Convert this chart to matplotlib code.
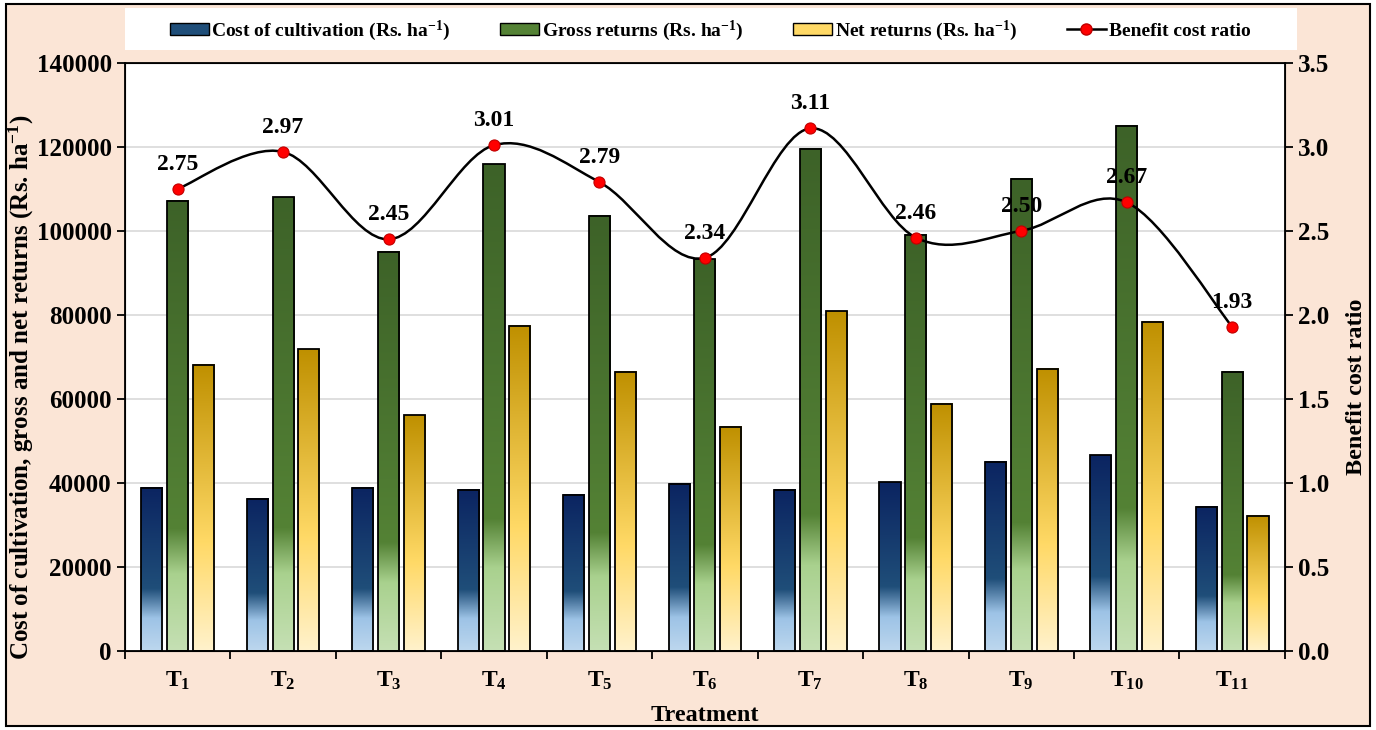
import numpy as np
import matplotlib
matplotlib.use("Agg")
import matplotlib.pyplot as plt
from matplotlib.colors import LinearSegmentedColormap
from matplotlib.patches import Rectangle, Patch
from matplotlib.lines import Line2D
from matplotlib.path import Path
from matplotlib.patches import PathPatch

plt.rcParams['font.family'] = ['Liberation Serif', 'DejaVu Serif']
plt.rcParams['font.weight'] = 'bold'
plt.rcParams['mathtext.fontset'] = 'custom'
plt.rcParams['mathtext.rm'] = 'Liberation Serif:bold'
plt.rcParams['mathtext.bf'] = 'Liberation Serif:bold'
plt.rcParams['mathtext.it'] = 'Liberation Serif:bold:italic'

# Economics of the treatments
treatments = [r'T$_{%d}$' % i for i in range(1, 12)]
cost = [38900, 36200, 38900, 38400, 37200, 39800, 38400, 40200, 45000, 46600, 34400]
gross = [107100, 108000, 95000, 115800, 103600, 93200, 119600, 99000, 112400, 125000, 66500]
net = [68200, 71800, 56100, 77400, 66400, 53300, 80900, 58800, 67200, 78300, 32200]
bcr = [2.75, 2.97, 2.45, 3.01, 2.79, 2.34, 3.11, 2.46, 2.50, 2.67, 1.93]

# vertical gradients, bottom -> top
cm_blue = LinearSegmentedColormap.from_list('b', [(0, '#BDD7EE'), (0.20, '#9DC3E6'),
                                                  (0.38, '#1F4E79'), (1, '#0B2461')])
cm_green = LinearSegmentedColormap.from_list('g', [(0, '#C5E0B4'), (0.17, '#A9D18E'),
                                                   (0.27, '#548235'), (1, '#3D6228')])
cm_gold = LinearSegmentedColormap.from_list('y', [(0, '#FFF2CC'), (0.38, '#FFD966'),
                                                  (1, '#BF9000')])

fig = plt.figure(figsize=(13.76, 7.30), dpi=100)
fig.patch.set_facecolor('white')
fig.add_artist(Rectangle((0.004, 0.005), 0.992, 0.99, transform=fig.transFigure,
                         facecolor='#FBE5D6', edgecolor='black', linewidth=1.5, zorder=-10))
fig.add_artist(Rectangle((0.0908, 0.9315), 0.8518, 0.0575, transform=fig.transFigure,
                         facecolor='white', edgecolor='none', zorder=-9))

ax = fig.add_axes([0.0908, 0.108, 0.8430, 0.806])
ax.set_facecolor('white')

x = np.arange(len(treatments))
w = 0.2
step = 0.245
grad = np.linspace(0, 1, 256).reshape(-1, 1)
for vals, off, cm in [(cost, -step, cm_blue), (gross, 0, cm_green), (net, step, cm_gold)]:
    for xi, v in zip(x, vals):
        ax.imshow(grad, extent=[xi + off - w / 2, xi + off + w / 2, 0, v], origin='lower',
                  cmap=cm, aspect='auto', zorder=2, interpolation='bilinear')
    ax.bar(x + off, vals, width=w, fill=False, edgecolor='black', linewidth=1.3, zorder=3)

ax.set_xlim(-0.5, len(treatments) - 0.5)
ax.set_ylim(0, 140000)
ax.set_yticks(np.arange(0, 140001, 20000))
ax.grid(axis='y', color='#D9D9D9', linewidth=1.2, zorder=0)
ax.set_axisbelow(True)
ax.set_xticks(np.arange(-0.5, len(treatments), 1.0))
ax.set_xticklabels([])
ax.set_xticks(x, minor=True)
ax.set_xticklabels(treatments, minor=True, fontsize=17, fontweight='bold')
ax.tick_params(axis='x', which='major', direction='out', length=6, width=1.3)
ax.tick_params(axis='x', which='minor', length=0, pad=13)
ax.tick_params(axis='y', direction='out', length=6, width=1.3, labelsize=18)
for lab in ax.get_yticklabels():
    lab.set_fontweight('bold')
for s in ax.spines.values():
    s.set_linewidth(1.3)
ax.set_xlabel('Treatment', fontsize=17.5, fontweight='bold', labelpad=10)
ax.set_ylabel(r'Cost of cultivation, gross and net returns (Rs. ha$^{-1}$)',
              fontsize=18, fontweight='bold')
ax.yaxis.set_label_coords(-0.077, 0.449)

# benefit cost ratio on the secondary axis, smoothed with bezier segments
ax2 = ax.twinx()
ax2.set_ylim(0, 3.5)
ax2.set_yticks(np.arange(0, 3.51, 0.5))
ax2.set_yticklabels([f'{t:.1f}' for t in np.arange(0, 3.51, 0.5)])
ax2.tick_params(axis='y', direction='out', length=6, width=1.3, labelsize=18)
for lab in ax2.get_yticklabels():
    lab.set_fontweight('bold')
ax2.set_ylabel('Benefit cost ratio', fontsize=17.5, fontweight='bold')
ax2.yaxis.set_label_coords(1.053, 0.45)

pts = np.column_stack([x, bcr]).astype(float)
ext = np.vstack([pts[0], pts, pts[-1]])
verts = [pts[0]]
codes = [Path.MOVETO]
for i in range(len(pts) - 1):
    p0, p1, p2, p3 = ext[i], ext[i + 1], ext[i + 2], ext[i + 3]
    verts += [p1 + (p2 - p0) / 6, p2 - (p3 - p1) / 6, p2]
    codes += [Path.CURVE4] * 3
ax2.add_patch(PathPatch(Path(verts, codes), facecolor='none', edgecolor='black',
                        linewidth=1.8, zorder=4))
ax2.plot(x, bcr, linestyle='none', marker='o', markersize=8, markerfacecolor='#FF0000',
         markeredgecolor='#C00000', markeredgewidth=0.8, zorder=5)
for xi, v in zip(x, bcr):
    ax2.annotate(f'{v:.2f}', (xi, v), xytext=(0, 10), textcoords='offset points',
                 ha='center', va='bottom', fontsize=17, fontweight='bold', zorder=6)

handles = [
    Patch(facecolor='#1F4E79', edgecolor='black', linewidth=1),
    Patch(facecolor='#548235', edgecolor='black', linewidth=1),
    Patch(facecolor='#FFD966', edgecolor='black', linewidth=1),
    Line2D([], [], color='black', linewidth=1.8, marker='o', markersize=8,
           markerfacecolor='#FF0000', markeredgecolor='#C00000'),
]
labels = [r'Cost of cultivation (Rs. ha$^{-1}$)', r'Gross returns (Rs. ha$^{-1}$)',
          r'Net returns (Rs. ha$^{-1}$)', 'Benefit cost ratio']
fig.legend(handles, labels, loc='center', bbox_to_anchor=(0.516, 0.958), ncol=4,
           frameon=False, handlelength=2.0, handleheight=0.55,
           handletextpad=0.15, columnspacing=2.55, prop={'weight': 'bold', 'size': 14})

fig.savefig('out.png', dpi=100)
